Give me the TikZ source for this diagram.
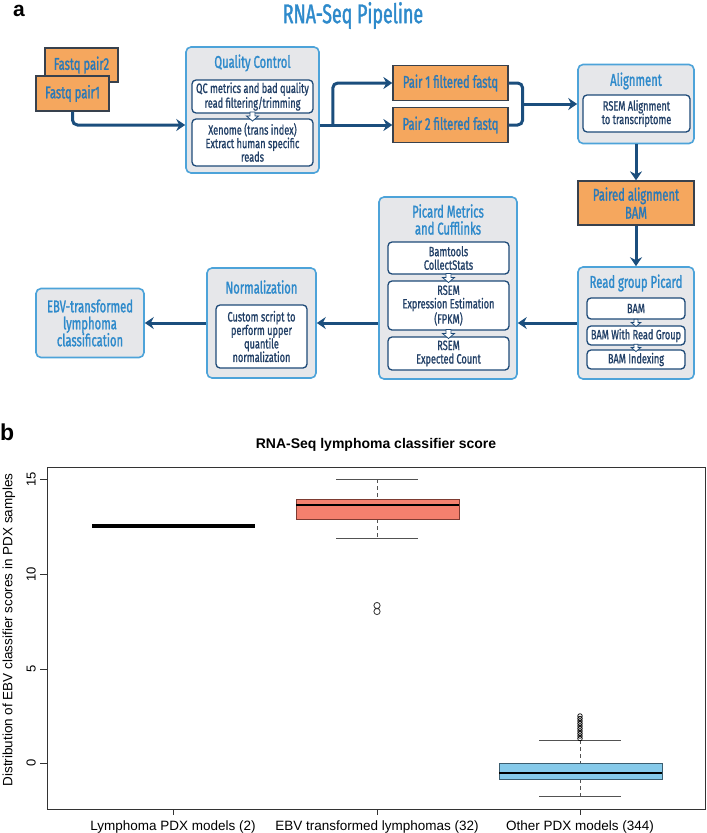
\documentclass[tikz,border=0pt]{standalone}
\usepackage{fontspec}
\setmainfont{Liberation Sans}
\newfontfamily\cond[FakeStretch=0.68,FakeBold=1.0]{Fira Sans}
\newfontfamily\condt[FakeStretch=0.66,FakeBold=1.4]{Fira Sans}
\usetikzlibrary{arrows.meta,calc}
\definecolor{ttlc}{HTML}{2E8ACB}
\definecolor{obd}{HTML}{4DA3D9}
\definecolor{ofill}{HTML}{E6E7EA}
\definecolor{nav}{HTML}{1E4A78}
\definecolor{ntext}{HTML}{213F66}
\definecolor{orng}{HTML}{F5A75E}
\definecolor{obrd}{HTML}{38414D}
\definecolor{otext}{HTML}{2A79B8}
\definecolor{arr}{HTML}{1B4E7D}
\definecolor{salm}{HTML}{F4806E}
\definecolor{sbrd}{HTML}{7D3B32}
\definecolor{skyb}{HTML}{86CAEA}
\definecolor{kbrd}{HTML}{3C5E70}
\definecolor{frmc}{HTML}{333333}
\newcommand\cfs[2]{\cond\fontsize{#1}{#2}\selectfont}
\newcommand\cft[2]{\condt\fontsize{#1}{#2}\selectfont}
\begin{document}
\begin{tikzpicture}[x=1pt,y=-1pt,
  outer/.style={draw=obd, fill=ofill, line width=1.6, rounded corners=5, inner sep=0},
  inbox/.style={draw=nav, fill=white, line width=1.3, rounded corners=4, inner sep=0, align=center, text=ntext, font=\cfs{13.5}{13.5}},
  obox/.style={draw=obrd, fill=orng, line width=1.3, inner sep=0, align=center, text=otext, font=\cft{17}{18}},
  boxttl/.style={text=ttlc, align=center, inner sep=0, font=\cft{17}{17}},
  flow/.style={draw=arr, line width=3, rounded corners=5, -{Stealth[length=9pt,width=12pt,inset=3pt]}},
  link/.style={draw=arr, line width=3, rounded corners=5},
  downarr/.pic={\draw[nav, fill=white, line width=0.8] (-2.5,-4)--(-2.5,0)--(-6,0)--(0,5)--(6,0)--(2.5,0)--(2.5,-4)--cycle;},
  frm/.style={draw=frmc, line width=0.9},
  wh/.style={draw=frmc!85, line width=0.9},
  ylab/.style={rotate=90, anchor=base, inner sep=0, font=\fontsize{13}{13}\selectfont},
  xlab/.style={anchor=base, inner sep=0, font=\fontsize{13.5}{13.5}\selectfont}
]
\useasboundingbox (0,0) rectangle (707,833);
% ---------- panel a ----------
\node[anchor=base west, inner sep=0, font=\fontsize{21}{21}\selectfont\bfseries] (la) at (13,16) {a};
\node[inner sep=0, text=ttlc, font=\cft{27}{27}] (title) at (353,15.5) {RNA-Seq Pipeline};

\node[obox, minimum width=73, minimum height=34] (fq2) at (81.5,65) {Fastq pair2};
\node[obox, minimum width=73, minimum height=35] (fq1) at (72.5,93.5) {Fastq pair1};

\node[outer, minimum width=133, minimum height=126] (qc) at (252.5,110) {};
\node[boxttl] (qct) at (252.5,63) {Quality Control};
\node[inbox, minimum width=121, minimum height=33] (q1) at (252.5,96.5) {QC metrics and bad quality\\read filtering/trimming};
\node[inbox, minimum width=121, minimum height=47] (q2) at (252.5,142.5) {Xenome (trans index)\\Extract human specific\\reads};
\path ($(q1.south)!0.5!(q2.north)$) pic {downarr};

\node[obox, minimum width=115, minimum height=35] (p1) at (450.5,83) {Pair 1 filtered fastq};
\node[obox, minimum width=115, minimum height=35] (p2) at (450.5,125) {Pair 2 filtered fastq};

\node[outer, minimum width=116, minimum height=79] (al) at (636,104) {};
\node[boxttl] (alt) at (636,81) {Alignment};
\node[inbox, minimum width=107, minimum height=37] (a1) at (636.5,113.5) {RSEM Alignment\\to transcriptome};

\node[obox, minimum width=116, minimum height=44] (pa) at (636,203) {Paired alignment\\BAM};

\node[outer, minimum width=116, minimum height=112] (rg) at (636,323) {};
\node[boxttl] (rgt) at (636,283) {Read group Picard};
\node[inbox, minimum width=98, minimum height=21] (r1) at (636,308.5) {BAM};
\node[inbox, minimum width=98, minimum height=19] (r2) at (636,335.5) {BAM With Read Group};
\node[inbox, minimum width=98, minimum height=19] (r3) at (636,359.5) {BAM Indexing};
\path ($(r1.south)!0.5!(r2.north)$) pic[scale=0.8] {downarr};
\path ($(r2.south)!0.5!(r3.north)$) pic[scale=0.8] {downarr};

\node[outer, minimum width=138, minimum height=182] (pm) at (448,288) {};
\node[boxttl] (pmt) at (448,219.5) {Picard Metrics\\and Cufflinks};
\node[inbox, minimum width=121, minimum height=32] (b1) at (448.5,258) {Bamtools\\CollectStats};
\node[inbox, minimum width=121, minimum height=49] (b2) at (448.5,305.5) {RSEM\\Expression Estimation\\(FPKM)};
\node[inbox, minimum width=121, minimum height=33] (b3) at (448.5,353.5) {RSEM\\Expected Count};
\path ($(b1.south)!0.5!(b2.north)$) pic {downarr};
\path ($(b2.south)!0.5!(b3.north)$) pic {downarr};

\node[outer, minimum width=109, minimum height=110] (nm) at (261.5,323) {};
\node[boxttl] (nmt) at (261.5,287) {Normalization};
\node[inbox, minimum width=91, minimum height=63] (n1) at (261.5,336.5) {Custom script to\\perform upper\\quantile\\normalization};

\node[outer, minimum width=108, minimum height=69, text=ttlc, align=center, font=\cft{17}{17}] (ebv) at (90,323) {EBV-transformed\\lymphoma\\classification};

% connectors
\draw[flow] (fq1.south) |- (qc.west |- p2.west);
\draw[flow] (qc.east |- p2.west) -- (p2.west);
\draw[flow] ([xshift=13pt]qc.east |- p2.west) |- (p1.west);
\draw[link] (p1.east) -- ($(p1.east)+(14,0)$) -- ($(p2.east)+(14,0)$) -- (p2.east);
\draw[flow] ($(p1.east)!0.5!(p2.east)+(14,0)$) -- (al.west);
\draw[flow] (al.south) -- (pa.north);
\draw[flow] (pa.south) -- (rg.north);
\draw[flow] (rg.west) -- (rg.west -| pm.east);
\draw[flow] (nm.east -| pm.west) -- (nm.east);
\draw[flow] (nm.west) -- (ebv.east);

% ---------- panel b ----------
\node[anchor=base west, inner sep=0, font=\fontsize{23}{23}\selectfont\bfseries] (lb) at (0,440) {b};
\node[anchor=base, inner sep=0, font=\fontsize{14}{14}\selectfont\bfseries] (ptitle) at (376,448) {RNA-Seq lymphoma classifier score};
\node[rotate=90, anchor=base, inner sep=0, font=\fontsize{13.5}{13.5}\selectfont] (yl) at (12.5,630) {Distribution of EBV classifier scores in PDX samples};

\draw[frm] (47,467) rectangle (705,809);
\foreach \v/\y in {0/763,5/669,10/574,15/479}{
  \draw[frm] (40,\y) -- (47,\y);
  \node[ylab] (yt\v) at (35.5,\y) {\v};
}
\foreach \x in {173,377,580}{\draw[frm] (\x,809) -- (\x,815);}
\node[xlab] (x1) at (173,830.5) {Lymphoma PDX models (2)};
\node[xlab] (x2) at (377,830.5) {EBV transformed lymphomas (32)};
\node[xlab] (x3) at (580,830.5) {Other PDX models (344)};

% box 1
\draw[black, line width=4.5] (92,526) -- (255,526);
% box 2
\draw[wh, dash pattern=on 4pt off 3pt] (377,479) -- (377,499);
\draw[wh, dash pattern=on 4pt off 3pt] (377,519) -- (377,538);
\draw[wh] (336,479) -- (418,479);
\draw[wh] (336,538) -- (418,538);
\draw[fill=salm, draw=sbrd, line width=1] (296,499) rectangle (459,519);
\draw[black, line width=2.5] (296,505) -- (459,505);
\draw[frmc, line width=0.8] (377,605.5) circle (3.1) (377,611.5) circle (3.1);
% box 3
\draw[wh, dash pattern=on 4pt off 3pt] (580,740) -- (580,763);
\draw[wh, dash pattern=on 4pt off 3pt] (580,779) -- (580,796);
\draw[wh] (539,740) -- (621,740);
\draw[wh] (539,796) -- (621,796);
\draw[fill=skyb, draw=kbrd, line width=1] (499,763) rectangle (662,779);
\draw[black, line width=2.5] (499,773) -- (662,773);
\foreach \yy in {716,718.5,...,739}{\draw[black, line width=0.7] (580,\yy) circle (2.3);}
\end{tikzpicture}
\end{document}
